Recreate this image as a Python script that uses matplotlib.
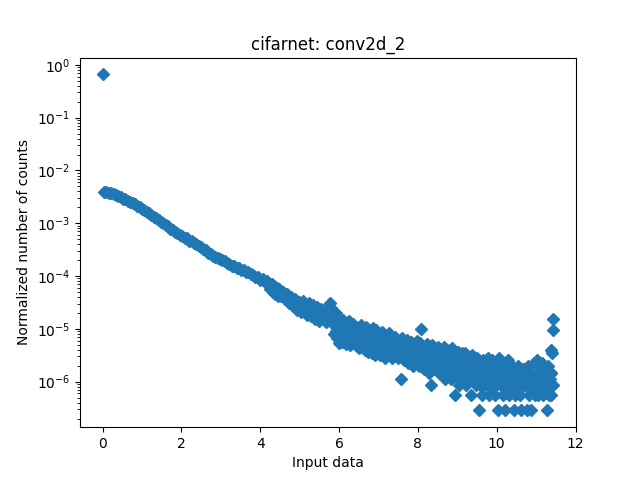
import matplotlib
matplotlib.use("Agg")
import matplotlib.pyplot as plt
import numpy as np

# bin holding the zeros
zero_x = [0.0]
zero_y = [0.658]

# smooth part of the distribution (normalized counts)
head_x = [
    0.04, 0.10, 0.16, 0.22, 0.28, 0.34, 0.40, 0.46, 0.52, 0.58,
    0.64, 0.70, 0.76, 0.82, 0.88, 0.94, 1.00, 1.06, 1.12, 1.18,
    1.24, 1.30, 1.36, 1.42, 1.48, 1.54, 1.60, 1.66, 1.72, 1.78,
    1.84, 1.90, 1.96, 2.02, 2.08, 2.14, 2.20, 2.26, 2.32, 2.38,
    2.44, 2.50, 2.56, 2.62, 2.68, 2.74, 2.80, 2.86, 2.92, 2.98,
    3.04, 3.10, 3.16, 3.22, 3.28, 3.34, 3.40, 3.46, 3.52, 3.58,
    3.64, 3.70, 3.76, 3.82, 3.88, 3.94, 4.00, 4.06, 4.12, 4.18,
    4.24, 4.26, 4.30, 4.32, 4.36, 4.38, 4.42, 4.44,
]
head_y = [
    3.98e-3, 3.90e-3, 3.78e-3, 3.68e-3, 3.55e-3, 3.40e-3, 3.22e-3, 3.10e-3, 2.93e-3, 2.83e-3,
    2.67e-3, 2.52e-3, 2.38e-3, 2.27e-3, 2.12e-3, 2.01e-3, 1.85e-3, 1.77e-3, 1.63e-3, 1.54e-3,
    1.42e-3, 1.34e-3, 1.24e-3, 1.17e-3, 1.06e-3, 1.01e-3, 9.1e-4, 8.7e-4, 7.9e-4, 7.6e-4,
    6.9e-4, 6.6e-4, 6.0e-4, 5.8e-4, 5.3e-4, 5.15e-4, 4.7e-4, 4.55e-4, 4.2e-4, 4.0e-4,
    3.65e-4, 3.5e-4, 3.2e-4, 3.05e-4, 2.75e-4, 2.66e-4, 2.42e-4, 2.33e-4, 2.17e-4, 2.12e-4,
    1.97e-4, 1.92e-4, 1.77e-4, 1.72e-4, 1.58e-4, 1.57e-4, 1.42e-4, 1.40e-4, 1.29e-4, 1.28e-4,
    1.17e-4, 1.17e-4, 1.07e-4, 1.05e-4, 9.5e-5, 9.5e-5, 8.6e-5, 8.7e-5, 7.7e-5, 7.9e-5,
    6.9e-5, 5.7e-5, 7.1e-5, 5.0e-5, 6.4e-5, 4.6e-5, 6.0e-5, 4.1e-5,
]

# noisy tail, raw counts per bin
TOTAL_COUNTS = 3.5e6
tail_x = [
    4.48, 4.53, 4.58, 4.63, 4.68, 4.73, 4.78, 4.83, 4.88, 4.93, 4.98,
    5.03, 5.08, 5.13, 5.18, 5.23, 5.28, 5.33, 5.38, 5.43, 5.48,
    5.53, 5.58, 5.63, 5.68, 5.73, 5.78, 5.83, 5.88,
    5.90, 5.93, 5.96, 5.99, 6.02, 6.05, 6.08, 6.11, 6.14, 6.17,
    6.20, 6.23, 6.26, 6.29, 6.32, 6.35, 6.38, 6.41, 6.44, 6.47,
    6.50, 6.53, 6.56, 6.59, 6.62, 6.65, 6.68, 6.71, 6.74, 6.77,
    6.80, 6.83, 6.86, 6.89, 6.92, 6.95, 6.98, 7.01, 7.04, 7.07,
    7.10, 7.13, 7.16, 7.19, 7.22, 7.25, 7.28, 7.31, 7.34, 7.37,
    7.40, 7.43, 7.46, 7.49, 7.52, 7.55, 7.58, 7.61, 7.64, 7.67,
    7.70, 7.73, 7.76, 7.79, 7.82, 7.85, 7.88, 7.91, 7.94, 7.97,
    8.00, 8.03, 8.06, 8.09, 8.12, 8.15, 8.18, 8.21, 8.24, 8.27,
    8.30, 8.33, 8.36, 8.39, 8.42, 8.45, 8.48, 8.51, 8.54, 8.57,
    8.60, 8.63, 8.66, 8.69, 8.72, 8.75, 8.78, 8.81, 8.84, 8.87,
    8.90, 8.93, 8.96, 8.99, 9.02, 9.05, 9.08, 9.11, 9.14, 9.17,
    9.20, 9.23, 9.26, 9.29, 9.32, 9.35, 9.38, 9.41, 9.44, 9.47,
    9.50, 9.53, 9.56, 9.59, 9.62, 9.65, 9.68, 9.71, 9.74, 9.77,
    9.80, 9.83, 9.86, 9.89, 9.92, 9.95, 9.98, 10.01, 10.04, 10.07,
    10.10, 10.13, 10.16, 10.19, 10.22, 10.25, 10.28, 10.31, 10.34, 10.37,
    10.40, 10.43, 10.46, 10.49, 10.52, 10.55, 10.58, 10.61, 10.64, 10.67,
    10.70, 10.73, 10.76, 10.79, 10.82, 10.85, 10.88, 10.91, 10.94, 10.97,
    11.00, 11.03, 11.06, 11.09, 11.12, 11.15, 11.18, 11.21, 11.24, 11.27,
    11.30, 11.33, 11.36, 11.39, 11.39, 11.39, 11.41, 11.44, 11.44, 11.42,
]
tail_counts = [
    200, 145, 178, 130, 158, 110, 140, 95, 128, 78, 115,
    72, 118, 88, 65, 108, 60, 98, 54, 90, 50,
    85, 55, 78, 47, 70, 108, 75, 28,
    40, 70, 24, 19, 50, 28, 20, 52, 33, 18,
    36, 24, 50, 17, 30, 44, 21, 24, 38, 16,
    15, 33, 41, 20, 27, 14, 38, 24, 13, 31,
    18, 12, 36, 25, 11, 33, 16, 28, 11, 21,
    31, 14, 10, 26, 19, 12, 29, 16, 10, 23,
    13, 25, 18, 10, 21, 14, 4, 24, 9, 17,
    11, 22, 8, 15, 20, 12, 7, 18, 10, 21,
    14, 7, 19, 35, 11, 6, 16, 9, 18, 5,
    12, 3, 17, 8, 14, 6, 11, 16, 5, 9,
    13, 7, 16, 4, 10, 14, 6, 12, 4, 15,
    8, 2, 11, 5, 13, 3, 9, 12, 4, 7,
    12, 3, 10, 6, 4, 2, 11, 5, 8, 3,
    10, 4, 1, 6, 2, 9, 3, 7, 5, 10,
    2, 6, 4, 9, 3, 2, 7, 5, 1, 10,
    3, 6, 2, 8, 1, 4, 9, 2, 5, 3,
    7, 1, 2, 5, 3, 7, 2, 1, 4, 6,
    6, 3, 1, 7, 2, 5, 1, 3, 8, 2,
    4, 9, 2, 6, 3, 8, 2, 5, 3, 1,
    7, 2, 4, 14, 5, 2, 12, 54, 33, 3,
]

# in-between bins of the tail (raw counts)
mid_x = [
    4.505, 4.555, 4.605, 4.655, 4.705, 4.755, 4.805, 4.855, 4.905, 4.955,
    5.005, 5.055, 5.105, 5.155, 5.205, 5.255, 5.305, 5.355, 5.405, 5.455,
    5.505, 5.555, 5.605, 5.655, 5.705, 5.755, 5.805, 5.855,
    5.915, 5.975, 6.035, 6.095, 6.155, 6.215, 6.275, 6.335, 6.395, 6.455,
    6.515, 6.575, 6.635, 6.695, 6.755, 6.815, 6.875, 6.935, 6.995, 7.055,
    7.115, 7.175, 7.235, 7.295, 7.355, 7.415, 7.475, 7.535, 7.595, 7.655,
    7.715, 7.775, 7.835, 7.895, 7.955, 8.015, 8.075, 8.135, 8.195, 8.255,
    8.315, 8.375, 8.435, 8.495, 8.555, 8.615, 8.675, 8.735, 8.795, 8.855,
    8.915, 8.975, 9.035, 9.095, 9.155, 9.215, 9.275, 9.335, 9.395, 9.455,
    9.515, 9.575, 9.635, 9.695, 9.755, 9.815, 9.875, 9.935, 9.995, 10.055,
    10.115, 10.175, 10.235, 10.295, 10.355, 10.415, 10.475, 10.535, 10.595, 10.655,
    10.715, 10.775, 10.835, 10.895, 10.955, 11.015, 11.075, 11.135, 11.195, 11.255,
    11.315, 11.375,
]
mid_counts = [
    165, 160, 150, 142, 132, 124, 115, 108, 100, 95,
    92, 88, 80, 78, 82, 72, 75, 68, 65, 66,
    62, 66, 60, 62, 56, 80, 88, 45,
    32, 28, 34, 26, 30, 27, 33, 25, 29, 24,
    27, 22, 25, 20, 23, 19, 21, 17, 20, 16,
    19, 15, 17, 14, 16, 13, 15, 12, 14, 12,
    14, 11, 13, 10, 12, 10, 12, 9, 11, 8,
    10, 7, 9, 7, 9, 6, 8, 6, 8, 5,
    7, 5, 7, 4, 6, 5, 6, 4, 5, 4,
    5, 3, 5, 4, 3, 5, 3, 4, 3, 4,
    3, 4, 3, 4, 3, 4, 3, 4, 3, 3,
    4, 3, 4, 3, 4, 3, 5, 4, 3, 4,
    3, 5,
]

tail_y = np.array(tail_counts) / TOTAL_COUNTS
mid_y = np.array(mid_counts) / TOTAL_COUNTS

x = np.concatenate([zero_x, head_x, tail_x, mid_x])
y = np.concatenate([zero_y, head_y, tail_y, mid_y])

fig, ax = plt.subplots(figsize=(6.4, 4.8), dpi=100)
ax.plot(x, y, "D", linestyle="none")
ax.set_yscale("log")
ax.set_title("cifarnet: conv2d_2")
ax.set_xlabel("Input data")
ax.set_ylabel("Normalized number of counts")
fig.savefig("out.png")
